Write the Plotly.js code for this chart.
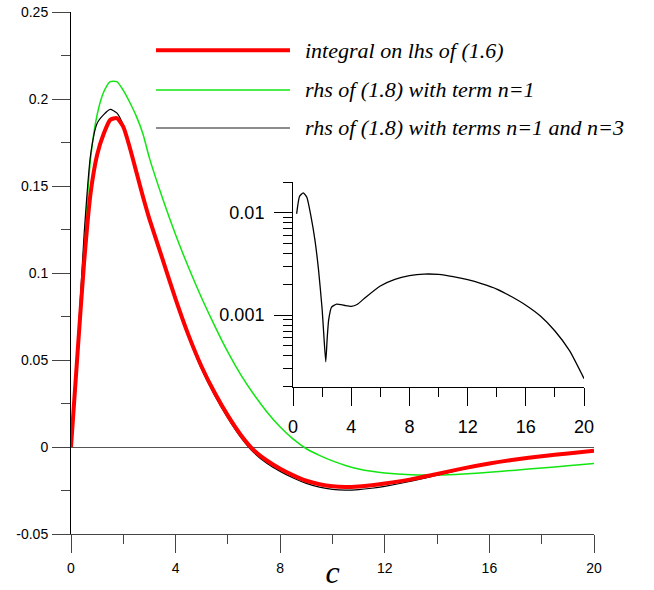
<!DOCTYPE html>
<html>
<head>
<meta charset="utf-8">
<script src="https://cdn.plot.ly/plotly-3.0.1.min.js"></script>
<style>html,body{margin:0;padding:0;background:#fff;}#chart{width:654px;height:590px;}</style>
</head>
<body>
<div id="chart"></div>
<script>
// ---- data ----
var cValues = [0,0.25,0.5,0.75,1,1.25,1.5,1.75,2,2.25,2.5,2.75,3,3.5,4,4.5,5,5.5,6,6.5,7,7.5,8,8.5,9,9.5,10,10.5,11,11.5,12,13,14,15,16,17,18,19,20];
var lhsIntegral = [0,0.054,0.106,0.146,0.168,0.180,0.188,0.189,0.184,0.172,0.158,0.144,0.131,0.108,0.085,0.064,0.046,0.031,0.018,0.0068,-0.002,-0.0079,-0.0125,-0.0163,-0.0194,-0.0214,-0.0226,-0.023,-0.0227,-0.022,-0.021,-0.0186,-0.0155,-0.0123,-0.0095,-0.0072,-0.0053,-0.0037,-0.0022];
var rhsTermN1 = [0,0.055,0.115,0.166,0.191,0.204,0.210,0.210,0.205,0.198,0.190,0.180,0.166,0.143,0.122,0.103,0.0855,0.0695,0.0545,0.0413,0.030,0.020,0.0115,0.0045,-0.001,-0.0048,-0.008,-0.0106,-0.0126,-0.014,-0.015,-0.016,-0.0161,-0.0155,-0.0145,-0.0133,-0.0121,-0.0108,-0.0095];
var rhsTermsN1N3 = [0,0.057,0.122,0.168,0.186,0.191,0.194,0.192,0.185,0.172,0.158,0.144,0.1305,0.1073,0.084,0.0628,0.0445,0.0295,0.0166,0.0054,-0.0034,-0.0095,-0.014,-0.0178,-0.0209,-0.0231,-0.0244,-0.0248,-0.0245,-0.0237,-0.0226,-0.0197,-0.0162,-0.0127,-0.0097,-0.0073,-0.0054,-0.0038,-0.0023];

var insetC = [0.25,0.45,0.7,0.95,1.25,1.5,1.75,2.0,2.1,2.25,2.35,2.45,2.65,3.0,3.5,4.0,4.4,5.0,6.0,7.0,8.0,9.0,10,11,12,13,14,15,16,17,18,19,20];
var insetValues = [0.0098,0.0145,0.0157,0.0142,0.0090,0.0055,0.0028,0.00115,0.0007,0.00035,0.0006,0.0009,0.00120,0.00128,0.00125,0.00122,0.00127,0.00150,0.00193,0.00224,0.00243,0.00252,0.0025,0.00238,0.00222,0.00202,0.0018,0.00152,0.00125,0.00098,0.0007,0.00045,0.00024];

var legendLabels = ["integral on lhs of (1.6)", "rhs of (1.8) with term n=1", "rhs of (1.8) with terms n=1 and n=3"];
var mainXTicks = [0,4,8,12,16,20];
var mainYTicks = [-0.05,0,0.05,0.1,0.15,0.2,0.25];
var mainYTickText = ["-0.05","0","0.05","0.1","0.15","0.2","0.25"];
var insetXTicks = [0,4,8,12,16,20];
var insetYTicks = [0.001,0.01];
var insetYTickText = ["0.001","0.01"];
var insetYMinor = [0.0002,0.0003,0.0004,0.0005,0.0006,0.0007,0.0008,0.0009,0.002,0.003,0.004,0.005,0.006,0.007,0.008,0.009,0.02];

// ---- styles ----
var colors = ["#ff0000", "#11e611", "#000000"];
var widths = [4, 1.5, 1.2];
var legendLineColors = ["#ff0000", "#11e611", "#666666"];

var traces = [
  {x: cValues, y: rhsTermN1, mode: "lines", line: {color: colors[1], width: widths[1], shape: "spline", smoothing: 0.6}, name: legendLabels[1], showlegend: false},
  {x: cValues, y: rhsTermsN1N3, mode: "lines", line: {color: colors[2], width: widths[2], shape: "spline", smoothing: 0.6}, name: legendLabels[2], showlegend: false},
  {x: cValues, y: lhsIntegral, mode: "lines", line: {color: colors[0], width: widths[0], shape: "spline", smoothing: 0.6}, name: legendLabels[0], showlegend: false},
  {x: insetC, y: insetValues, xaxis: "x2", yaxis: "y2", mode: "lines", line: {color: "#000", width: 1.3, shape: "spline", smoothing: 0.5}, showlegend: false}
];

var legendX0 = 0.1625, legendX1 = 0.4187, legendTextX = 0.4436;
var legendY = [0.9265, 0.8506, 0.7778];
var legendW = [4, 1.5, 1.5];
var shapes = [], annotations = [];
for (var i = 0; i < 3; i++) {
  shapes.push({type: "line", xref: "paper", yref: "paper", x0: legendX0, x1: legendX1, y0: legendY[i], y1: legendY[i], line: {color: legendLineColors[i], width: legendW[i]}});
  annotations.push({xref: "paper", yref: "paper", x: legendTextX, y: legendY[i], xanchor: "left", yanchor: "middle", showarrow: false, text: legendLabels[i], font: {family: "Liberation Serif, Times New Roman, serif", style: "italic", size: 22, color: "#000"}});
}

var axisFont = {family: "Liberation Sans, Arial, sans-serif", size: 14, color: "#000"};
var insetFont = {family: "Liberation Sans, Arial, sans-serif", size: 18, color: "#000"};

var layout = {
  width: 654, height: 590,
  margin: {l: 71, r: 60, t: 12, b: 56},
  paper_bgcolor: "#fff", plot_bgcolor: "#fff",
  showlegend: false,
  xaxis: {
    range: [0, 20], domain: [0, 1], anchor: "y",
    showline: true, linecolor: "#444", linewidth: 1,
    showgrid: false, zeroline: false,
    ticks: "outside", ticklen: 18, tickcolor: "#444", tickwidth: 1,
    tickmode: "array", tickvals: mainXTicks,
    tickfont: axisFont, ticklabelstandoff: 3,
    minor: {dtick: 2, tick0: 0, ticks: "outside", ticklen: 9, tickcolor: "#444", tickwidth: 1, showgrid: false},
    title: {text: "c", font: {family: "Liberation Serif, Times New Roman, serif", style: "italic", size: 32, color: "#000"}, standoff: 0}
  },
  yaxis: {
    range: [-0.05, 0.25], domain: [0, 1], anchor: "x",
    showline: true, linecolor: "#000", linewidth: 1,
    showgrid: false, zeroline: true, zerolinecolor: "#555", zerolinewidth: 1,
    ticks: "outside", ticklen: 18, tickcolor: "#444", tickwidth: 1,
    tickmode: "array", tickvals: mainYTicks, ticktext: mainYTickText,
    tickfont: axisFont, ticklabelstandoff: 1,
    minor: {dtick: 0.025, tick0: 0, ticks: "outside", ticklen: 9, tickcolor: "#444", tickwidth: 1, showgrid: false}
  },
  xaxis2: {
    range: [0, 20], domain: [0.4245, 0.981], anchor: "y2",
    showline: true, linecolor: "#000", linewidth: 1,
    showgrid: false, zeroline: false,
    ticks: "outside", ticklen: 18, tickcolor: "#000", tickwidth: 1,
    tickmode: "array", tickvals: insetXTicks,
    tickfont: insetFont, ticklabelstandoff: 6,
    minor: {dtick: 2, tick0: 0, ticks: "outside", ticklen: 9, tickcolor: "#000", tickwidth: 1, showgrid: false}
  },
  yaxis2: {
    type: "log", range: [Math.log10(0.0002), Math.log10(0.02)], domain: [0.2822, 0.6743], anchor: "x2",
    showline: true, linecolor: "#000", linewidth: 1,
    showgrid: false, zeroline: false,
    ticks: "outside", ticklen: 18, tickcolor: "#000", tickwidth: 1,
    tickmode: "array", tickvals: insetYTicks, ticktext: insetYTickText,
    tickfont: insetFont, ticklabelstandoff: 6,
    minor: {tickmode: "array", tickvals: insetYMinor, ticks: "outside", ticklen: 9, tickcolor: "#000", tickwidth: 1, showgrid: false}
  },
  shapes: shapes,
  annotations: annotations
};

Plotly.newPlot("chart", traces, layout, {staticPlot: true, displayModeBar: false});
</script>
</body>
</html>
